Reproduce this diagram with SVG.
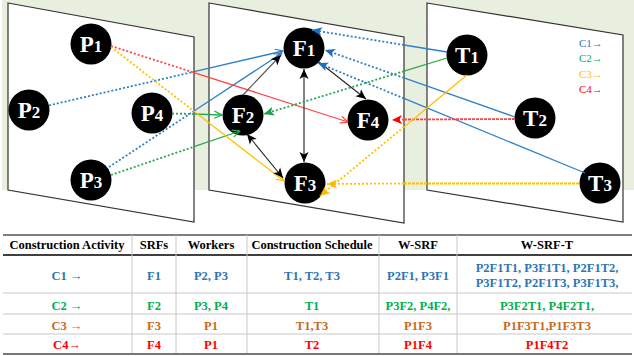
<svg xmlns="http://www.w3.org/2000/svg" width="634" height="356" viewBox="0 0 634 356" font-family="'Liberation Serif', 'Times New Roman', 'DejaVu Serif', serif">
<style>
text{font-family:"Liberation Serif","Times New Roman","DejaVu Serif",serif}
.panel{fill:#fff;stroke:#333;stroke-width:1.2}
.node circle{fill:#000}
.lbl{font-weight:bold;fill:#fff;font-size:23px;text-anchor:middle}
.lbl .d{font-size:17px}
.dot{fill:none;stroke-width:1.8;stroke-dasharray:2 2}
.sol{fill:none;stroke-width:1.3}
.dd{fill:none;stroke-width:1.8;stroke-dasharray:3 1}
.b{stroke:#2f80c8}.g{stroke:#28a850}.r{stroke:#ff4545}.y{stroke:#ffc000}.k{stroke:#222;stroke-width:1.1;fill:none}.gr{stroke:#555;stroke-width:1.1;fill:none}
.leg{font-size:11px}
.th{font-weight:bold;font-size:12.5px;text-anchor:middle;fill:#000}
.td{font-weight:bold;font-size:12.5px;text-anchor:middle}
.c1{fill:#2e75b6}.c2{fill:#00b050}.c3{fill:#c8691c}.c4{fill:#ff0000}
.hl{stroke:#000;stroke-width:1}.rl{stroke:#c8c8c8;stroke-width:1}
</style>
<defs>
<marker id="ob" viewBox="0 0 10 10" refX="9.5" refY="5" markerWidth="9" markerHeight="9" markerUnits="userSpaceOnUse" orient="auto"><path d="M1,1 L9.5,5 L1,9" fill="none" stroke="#2f80c8" stroke-width="1.3"/></marker>
<marker id="og" viewBox="0 0 10 10" refX="9.5" refY="5" markerWidth="9" markerHeight="9" markerUnits="userSpaceOnUse" orient="auto"><path d="M1,1 L9.5,5 L1,9" fill="none" stroke="#28a850" stroke-width="1.3"/></marker>
<marker id="or" viewBox="0 0 10 10" refX="9.5" refY="5" markerWidth="9" markerHeight="9" markerUnits="userSpaceOnUse" orient="auto"><path d="M1,1 L9.5,5 L1,9" fill="none" stroke="#ff4545" stroke-width="1.3"/></marker>
<marker id="oy" viewBox="0 0 10 10" refX="9.5" refY="5" markerWidth="9" markerHeight="9" markerUnits="userSpaceOnUse" orient="auto"><path d="M1,1 L9.5,5 L1,9" fill="none" stroke="#ffc000" stroke-width="1.3"/></marker>
<marker id="fk" viewBox="0 0 10 10" refX="10" refY="5" markerWidth="10" markerHeight="10" markerUnits="userSpaceOnUse" orient="auto-start-reverse"><path d="M0,0.5 L10,5 L0,9.5 L2.5,5 z" fill="#000"/></marker>
<marker id="fb" viewBox="0 0 10 10" refX="10" refY="5" markerWidth="10" markerHeight="10" markerUnits="userSpaceOnUse" orient="auto"><path d="M0,0.5 L10,5 L0,9.5 L2.5,5 z" fill="#1a6fc0"/></marker>
<marker id="fg" viewBox="0 0 10 10" refX="10" refY="5" markerWidth="10" markerHeight="10" markerUnits="userSpaceOnUse" orient="auto"><path d="M0,0.5 L10,5 L0,9.5 L2.5,5 z" fill="#1aa048"/></marker>
<marker id="fr" viewBox="0 0 10 10" refX="10" refY="5" markerWidth="10" markerHeight="10" markerUnits="userSpaceOnUse" orient="auto"><path d="M0,0.5 L10,5 L0,9.5 L2.5,5 z" fill="#ff0000"/></marker>
<marker id="fy" viewBox="0 0 10 10" refX="10" refY="5" markerWidth="10" markerHeight="10" markerUnits="userSpaceOnUse" orient="auto"><path d="M0,0.5 L10,5 L0,9.5 L2.5,5 z" fill="#ffb800"/></marker>
</defs>
<rect x="0" y="0" width="634" height="356" fill="#fff"/>
<rect x="2" y="0" width="632" height="190" fill="#e9efdf"/>
<g id="panels">
<polygon class="panel" points="8,3 194,37 194,222 8,190"/>
<polygon class="panel" points="209,3 404,37 404,223 209,190"/>
<polygon class="panel" points="427,3 623,35 623,222 427,190"/>
</g>
<g id="P1" class="node"><circle cx="91" cy="44" r="20.5"/><text class="lbl" x="91" y="52">P<tspan class="d">1</tspan></text></g>
<g id="P2" class="node"><circle cx="29" cy="110" r="20.5"/><text class="lbl" x="29" y="118">P<tspan class="d">2</tspan></text></g>
<g id="P4" class="node"><circle cx="152" cy="113" r="20.5"/><text class="lbl" x="152" y="121">P<tspan class="d">4</tspan></text></g>
<g id="P3" class="node"><circle cx="91" cy="180" r="20.5"/><text class="lbl" x="91" y="188">P<tspan class="d">3</tspan></text></g>
<g id="F1" class="node"><circle cx="304" cy="48" r="20.5"/><text class="lbl" x="304" y="56">F<tspan class="d">1</tspan></text></g>
<g id="F2" class="node"><circle cx="243" cy="115" r="20.5"/><text class="lbl" x="243" y="123">F<tspan class="d">2</tspan></text></g>
<g id="F4" class="node"><circle cx="368" cy="120" r="20.5"/><text class="lbl" x="368" y="128">F<tspan class="d">4</tspan></text></g>
<g id="F3" class="node"><circle cx="305" cy="183" r="20.5"/><text class="lbl" x="305" y="191">F<tspan class="d">3</tspan></text></g>
<g id="T1" class="node"><circle cx="467" cy="55" r="20.5"/><text class="lbl" x="467" y="63">T<tspan class="d">1</tspan></text></g>
<g id="T2" class="node"><circle cx="535" cy="118" r="20.5"/><text class="lbl" x="535" y="126">T<tspan class="d">2</tspan></text></g>
<g id="T3" class="node"><circle cx="600" cy="183" r="20.5"/><text class="lbl" x="600" y="191">T<tspan class="d">3</tspan></text></g>
<g id="connectors">
<path class="dot b" d="M49,105.4 L194,71.7"/><path class="sol b" d="M194,71.7 L283,51" marker-end="url(#ob)"/>
<path class="dot b" d="M109,167 L194,111"/><path class="sol b" d="M194,111 L282,53" marker-end="url(#ob)"/>
<path class="dot g" d="M172,113.5 L194,114"/><path class="sol g" d="M194,114 L222,115" marker-end="url(#og)"/>
<path class="dot g" d="M111,175 L194,146.7"/><path class="sol g" d="M194,146.7 L240,131" marker-end="url(#og)"/>
<path class="dot r" d="M111,46 L194,72.6"/><path class="sol r" d="M194,72.6 L348,122" marker-end="url(#or)"/>
<path class="dot y" d="M111,47 L194,111.3"/><path class="sol y" d="M194,111.3 L284,181" marker-end="url(#oy)"/>
<path class="gr" d="M243,95 L281,55" marker-end="url(#fk)"/>
<path class="k" d="M304,69 L304,162" marker-start="url(#fk)" marker-end="url(#fk)"/>
<path class="k" d="M319,62 L366,99" marker-end="url(#fk)"/>
<path class="k" d="M247,134 L283,178" marker-start="url(#fk)" marker-end="url(#fk)"/>
<path class="sol b" d="M447,52 L404,45"/><path class="dot b" d="M404,45 L312,30" marker-end="url(#fb)"/>
<path class="sol b" d="M515,117 L404,77.9"/><path class="dot b" d="M404,77.9 L325,50" marker-end="url(#fb)"/>
<path class="sol b" d="M585,173 L404,98.4"/><path class="dot b" d="M404,98.4 L318,63" marker-end="url(#fb)"/>
<path class="sol g" d="M447,58 L404,71.2"/><path class="dot g" d="M404,71.2 L264,114" marker-end="url(#fg)"/>
<path class="dd r" d="M515,119 L404,119.5"/><path class="dot r" d="M404,119.5 L392,120" marker-end="url(#fr)"/>
<path class="sol y" d="M467,75 L404,126.9"/><path class="dot y" d="M404,126.9 L320,196" marker-end="url(#fy)"/>
<path class="dd y" d="M579,183.5 L404,183.5"/><path class="dot y" d="M404,183.5 L327,184" marker-end="url(#fy)"/>
</g>
<g id="legend" class="leg">
<text x="579" y="47" class="c1">C1→</text>
<text x="579" y="62" class="c2">C2→</text>
<text x="579" y="78" fill="#ffc000">C3→</text>
<text x="579" y="93" class="c4">C4→</text>
</g>
<g id="table">
<line class="hl" x1="3" y1="235" x2="632" y2="235"/>
<line x1="3" y1="255" x2="632" y2="255" stroke="#000" stroke-width="1.5"/>
<line class="rl" x1="3" y1="293" x2="632" y2="293"/>
<line class="rl" x1="3" y1="314" x2="632" y2="314"/>
<line class="rl" x1="3" y1="334" x2="632" y2="334"/>
<line x1="3" y1="354" x2="632" y2="354" stroke="#777" stroke-width="2"/>
<line class="rl" x1="132" y1="235" x2="132" y2="353"/>
<line class="rl" x1="176" y1="235" x2="176" y2="353"/>
<line class="rl" x1="247" y1="235" x2="247" y2="353"/>
<line class="rl" x1="379" y1="235" x2="379" y2="353"/>
<line class="rl" x1="457" y1="235" x2="457" y2="353"/>
<text class="th" x="67" y="249">Construction Activity</text>
<text class="th" x="154" y="249">SRFs</text>
<text class="th" x="211" y="249">Workers</text>
<text class="th" x="312" y="249">Construction Schedule</text>
<text class="th" x="418" y="249">W-SRF</text>
<text class="th" x="547" y="249">W-SRF-T</text>
<g class="c1">
<text class="td" x="67" y="280">C1 →</text>
<text class="td" x="154" y="280">F1</text>
<text class="td" x="211" y="280">P2, P3</text>
<text class="td" x="312" y="280">T1, T2, T3</text>
<text class="td" x="418" y="280">P2F1, P3F1</text>
<text class="td" x="547" y="272">P2F1T1, P3F1T1, P2F1T2,</text>
<text class="td" x="547" y="287">P3F1T2, P2F1T3, P3F1T3,</text>
</g>
<g class="c2">
<text class="td" x="67" y="310">C2 →</text>
<text class="td" x="154" y="310">F2</text>
<text class="td" x="211" y="310">P3, P4</text>
<text class="td" x="312" y="310">T1</text>
<text class="td" x="418" y="310">P3F2, P4F2,</text>
<text class="td" x="547" y="310">P3F2T1, P4F2T1,</text>
</g>
<g class="c3">
<text class="td" x="67" y="330">C3 →</text>
<text class="td" x="154" y="330">F3</text>
<text class="td" x="211" y="330">P1</text>
<text class="td" x="312" y="330">T1,T3</text>
<text class="td" x="418" y="330">P1F3</text>
<text class="td" x="547" y="330">P1F3T1,P1F3T3</text>
</g>
<g class="c4">
<text class="td" x="67" y="349">C4→</text>
<text class="td" x="154" y="349">F4</text>
<text class="td" x="211" y="349">P1</text>
<text class="td" x="312" y="349">T2</text>
<text class="td" x="418" y="349">P1F4</text>
<text class="td" x="547" y="349">P1F4T2</text>
</g>
</g>
</svg>
